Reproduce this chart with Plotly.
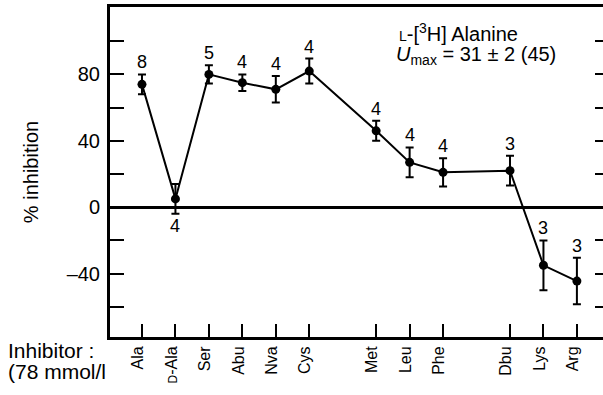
import plotly.graph_objects as go

# ---- data ----
inhibitors = ["Ala", "D-Ala", "Ser", "Abu", "Nva", "Cys", "Met", "Leu", "Phe", "Dbu", "Lys", "Arg"]
positions = [0, 1, 2, 3, 4, 5, 7, 8, 9, 11, 12, 13]
inhibition = [74, 5, 80, 75, 71, 82, 46, 27, 21, 22, -35, -44.5]
sem = [6, 9, 5.5, 5, 8, 7.5, 6, 9, 8.5, 9, 15, 14]
n_counts = [8, 4, 5, 4, 4, 4, 4, 4, 4, 3, 3, 3]
count_side = ["above", "below", "above", "above", "above", "above",
              "above", "above", "above", "above", "above", "above"]
y_labelled = [80, 40, 0, -40]
right_tickvals = [100, 80, 60, 40, 20, -20, -40, -60]

FONT = "Liberation Sans, Arial, Helvetica, sans-serif"
YR = [-78.2, 120.6]
XR = [-0.956, 13.78]

tick_text = []
for name in inhibitors:
    if name.startswith("D-"):
        tick_text.append("<span style='font-size:12px'>D</span>-" + name[2:])
    else:
        tick_text.append(name)

fig = go.Figure()
fig.add_trace(go.Scatter(
    x=positions, y=inhibition, mode="lines+markers",
    line=dict(color="black", width=2),
    marker=dict(color="black", size=9),
    error_y=dict(type="data", array=sem, thickness=2, width=4, color="black"),
    showlegend=False, hoverinfo="skip",
))
# invisible trace for the right-hand tick axis
fig.add_trace(go.Scatter(x=[positions[0]], y=[inhibition[0]], yaxis="y2",
                         mode="markers", marker=dict(opacity=0),
                         showlegend=False, hoverinfo="skip"))

for xp, yv, e, n, side in zip(positions, inhibition, sem, n_counts, count_side):
    if side == "above":
        fig.add_annotation(x=xp, y=yv + e, text=str(n), showarrow=False,
                           yanchor="bottom", yshift=0,
                           font=dict(family=FONT, size=18, color="black"))
    else:
        fig.add_annotation(x=xp, y=yv - e, text=str(n), showarrow=False,
                           yanchor="top", yshift=0,
                           font=dict(family=FONT, size=18, color="black"))

fig.add_annotation(xref="paper", yref="paper", x=(397 - 110) / 493, y=(337 - 33) / 330,
                   xanchor="left", yanchor="middle", showarrow=False,
                   text="<span style='font-size:14px'>L</span>-[<sup>3</sup>H] Alanine",
                   font=dict(family=FONT, size=20, color="black"))
fig.add_annotation(xref="paper", yref="paper", x=(394 - 110) / 493, y=(337 - 55) / 330,
                   xanchor="left", yanchor="middle", showarrow=False,
                   text="<i>U</i><sub>max</sub> = 31 ± 2 (45)",
                   font=dict(family=FONT, size=20, color="black"))
fig.add_annotation(xref="paper", yref="paper", x=-104 / 493, y=(337 - 350) / 330,
                   xanchor="left", yanchor="middle", showarrow=False,
                   text="Inhibitor :", font=dict(family=FONT, size=21, color="black"))
fig.add_annotation(xref="paper", yref="paper", x=-104 / 493, y=(337 - 371) / 330,
                   xanchor="left", yanchor="middle", showarrow=False,
                   text="(78 mmol/l", font=dict(family=FONT, size=21, color="black"))

fig.update_layout(
    width=603, height=395,
    margin=dict(l=110, r=0, t=7, b=58),
    paper_bgcolor="white", plot_bgcolor="white",
    font=dict(family=FONT, color="black"),
    xaxis=dict(
        range=XR, showgrid=False, zeroline=False,
        showline=True, linewidth=3, linecolor="black", mirror=True,
        ticks="inside", ticklen=13, tickwidth=2, tickcolor="black",
        tickvals=positions, ticktext=tick_text, tickangle=-90,
        ticklabelshift=-4,
        tickfont=dict(family=FONT, size=16, color="black"),
    ),
    yaxis=dict(
        range=YR, showgrid=False,
        zeroline=True, zerolinewidth=2.5, zerolinecolor="black",
        showline=True, linewidth=3, linecolor="black",
        ticks="inside", ticklen=14, tickwidth=2, tickcolor="black",
        tickvals=y_labelled,
        ticktext=[("\u2013" + str(abs(v))) if v < 0 else str(v) for v in y_labelled],
        ticklabelstandoff=3,
        minor=dict(ticks="inside", ticklen=14, tickwidth=2, tickcolor="black",
                   tick0=0, dtick=20, showgrid=False),
        tickfont=dict(family=FONT, size=20, color="black"),
        title=dict(text="% inhibition", font=dict(family=FONT, size=20, color="black"), standoff=23),
    ),
    yaxis2=dict(
        range=YR, overlaying="y", side="right", showgrid=False, zeroline=False,
        showline=False, ticks="inside", ticklen=8, tickwidth=2, tickcolor="black",
        tickvals=right_tickvals, showticklabels=False,
    ),
)

fig.write_html("out.html")
